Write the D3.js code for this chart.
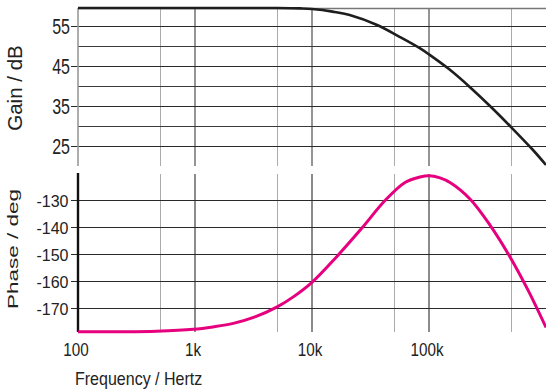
<!DOCTYPE html>
<html>
<head>
<meta charset="utf-8">
<script src="https://cdn.jsdelivr.net/npm/d3@7"></script>
<style>
  body { margin: 0; background: #fff; }
  svg { display: block; }
  text { font-family: "Liberation Sans", Arial, sans-serif; fill: #222; }
</style>
</head>
<body>
<svg id="chart" width="546" height="389"></svg>
<script>
// values
const gainFreq = [100, 1000, 5000, 8000, 10000, 15000, 21000, 36000, 56000, 84000, 100000, 150000, 224000, 332000, 500000, 774000, 1000000]
const gainDb   = [59.5, 59.5, 59.5, 59.4, 59.25, 58.6, 57.75, 55.25, 52.3, 49.4, 47.9, 44.1, 39.7, 35.0, 29.8, 24, 20.25]

const phaseFreq = [100, 228, 470, 967, 1425, 2126, 3257, 4993, 7020, 9940, 16260, 26600, 42070, 62360, 83750, 100000, 124200, 151200, 224100, 332200, 492500, 702000, 1000000]
const phaseDeg  = [-178.8, -178.8, -178.6, -177.9, -177.0, -175.7, -173.3, -169.7, -165.7, -160.6, -151.0, -140.5, -130.2, -123.5, -121.5, -121.0, -121.8, -123.5, -129.6, -139.3, -151.1, -163.4, -177.2]

const freqTicks  = [100, 1000, 10000, 100000]
const freqLabels = ["100", "1k", "10k", "100k"]
const decadeGrid = [1000, 10000, 100000]
const halfGrid   = [500, 5000, 50000, 500000]

const gainTicks  = [55, 45, 35, 25]
const gainMinor  = [50, 40, 30]
const phaseTicks = [-130, -140, -150, -160, -170]

const svg = d3.select("#chart")
const crisp = v => Math.round(v) + 0.5

const x = d3.scaleLog().domain([100, 1e6]).range([78, 546])
const yGain = d3.scaleLinear().domain([20, 59.5]).range([166, 8])
const yPhase = d3.scaleLinear().domain([-180, -120]).range([335, 173])

const xRight = x.range()[1]
const xLeft = x.range()[0]

// ---------- gain panel ----------
const gTop = svg.append("g").attr("class", "gain")

gTop.selectAll("line.vhalf")
  .data(halfGrid)
  .enter().append("line")
  .attr("x1", d => crisp(x(d))).attr("x2", d => crisp(x(d)))
  .attr("y1", 8).attr("y2", 166)
  .attr("stroke", "#ababab").attr("stroke-width", 1)

gTop.selectAll("line.vdec")
  .data(decadeGrid)
  .enter().append("line")
  .attr("x1", d => x(d)).attr("x2", d => x(d))
  .attr("y1", 8).attr("y2", 166)
  .attr("stroke", "#7a7a7a").attr("stroke-width", 1.6)

gTop.selectAll("line.hminor")
  .data(gainMinor)
  .enter().append("line")
  .attr("x1", xLeft).attr("x2", xRight)
  .attr("y1", d => crisp(yGain(d))).attr("y2", d => crisp(yGain(d)))
  .attr("stroke", "#3a3a3a").attr("stroke-width", 1)

gTop.selectAll("line.hmajor")
  .data(gainTicks)
  .enter().append("line")
  .attr("x1", xLeft - 7).attr("x2", xRight)
  .attr("y1", d => crisp(yGain(d))).attr("y2", d => crisp(yGain(d)))
  .attr("stroke", "#2a2a2a").attr("stroke-width", 1)

// frame: top border and left edge
gTop.append("line")
  .attr("x1", xLeft).attr("x2", xRight).attr("y1", 8.5).attr("y2", 8.5)
  .attr("stroke", "#777").attr("stroke-width", 1.5)
gTop.append("line")
  .attr("x1", xLeft).attr("x2", xLeft).attr("y1", 8).attr("y2", 166)
  .attr("stroke", "#999").attr("stroke-width", 1.6)

gTop.selectAll("text.tick")
  .data(gainTicks)
  .enter().append("text")
  .attr("class", "tick")
  .attr("text-anchor", "end")
  .attr("font-size", 16)
  .attr("transform", d => `translate(70,${yGain(d) + 8}) scale(1,1.37)`)
  .text(d => d)

gTop.append("path")
  .datum(gainFreq.map((f, i) => [f, gainDb[i]]))
  .attr("fill", "none")
  .attr("stroke", "#1e1e1e")
  .attr("stroke-width", 2.6)
  .attr("d", d3.line().x(d => x(d[0])).y(d => yGain(d[1])).curve(d3.curveCatmullRom.alpha(0.5)))

svg.append("text")
  .attr("text-anchor", "middle")
  .attr("font-size", 20.5)
  .attr("transform", "translate(22,88) rotate(-90)")
  .text("Gain / dB")

// ---------- phase panel ----------
const gBot = svg.append("g").attr("class", "phase")
const pTop = 174, pBot = 332

gBot.selectAll("line.vhalf")
  .data(halfGrid)
  .enter().append("line")
  .attr("x1", d => crisp(x(d))).attr("x2", d => crisp(x(d)))
  .attr("y1", pTop).attr("y2", pBot)
  .attr("stroke", "#ababab").attr("stroke-width", 1)

gBot.selectAll("line.vdec")
  .data(decadeGrid)
  .enter().append("line")
  .attr("x1", d => x(d)).attr("x2", d => x(d))
  .attr("y1", pTop).attr("y2", pBot)
  .attr("stroke", "#6e6e6e").attr("stroke-width", 1.6)

gBot.selectAll("line.h")
  .data(phaseTicks)
  .enter().append("line")
  .attr("x1", xLeft - 7).attr("x2", xRight)
  .attr("y1", d => crisp(yPhase(d))).attr("y2", d => crisp(yPhase(d)))
  .attr("stroke", "#2a2a2a").attr("stroke-width", 1)

gBot.append("line")
  .attr("x1", xLeft).attr("x2", xLeft).attr("y1", 173).attr("y2", pBot)
  .attr("stroke", "#111").attr("stroke-width", 2.4)

gBot.selectAll("text.tick")
  .data(phaseTicks)
  .enter().append("text")
  .attr("class", "tick")
  .attr("text-anchor", "end")
  .attr("font-size", 16)
  .attr("x", 68.5)
  .attr("y", d => yPhase(d) + 6.5)
  .text(d => d)

gBot.append("path")
  .datum(phaseFreq.map((f, i) => [f, phaseDeg[i]]))
  .attr("fill", "none")
  .attr("stroke", "#e6007e")
  .attr("stroke-width", 3)
  .attr("d", d3.line().x(d => x(d[0])).y(d => yPhase(d[1])).curve(d3.curveCatmullRom.alpha(0.5)))

svg.append("text")
  .attr("text-anchor", "middle")
  .attr("font-size", 15)
  .attr("transform", "translate(18,249) rotate(-90) scale(1.5,1)")
  .text("Phase / deg")

// ---------- frequency axis labels ----------
svg.selectAll("text.xtick")
  .data(freqTicks)
  .enter().append("text")
  .attr("class", "xtick")
  .attr("text-anchor", "middle")
  .attr("font-size", 17.5)
  .attr("transform", d => `translate(${x(d) - 2},356) scale(0.87,1)`)
  .text((d, i) => freqLabels[i])

svg.append("text")
  .attr("text-anchor", "start")
  .attr("font-size", 17.8)
  .attr("transform", "translate(75,384.5) scale(0.9,1)")
  .text("Frequency / Hertz")
</script>
</body>
</html>
